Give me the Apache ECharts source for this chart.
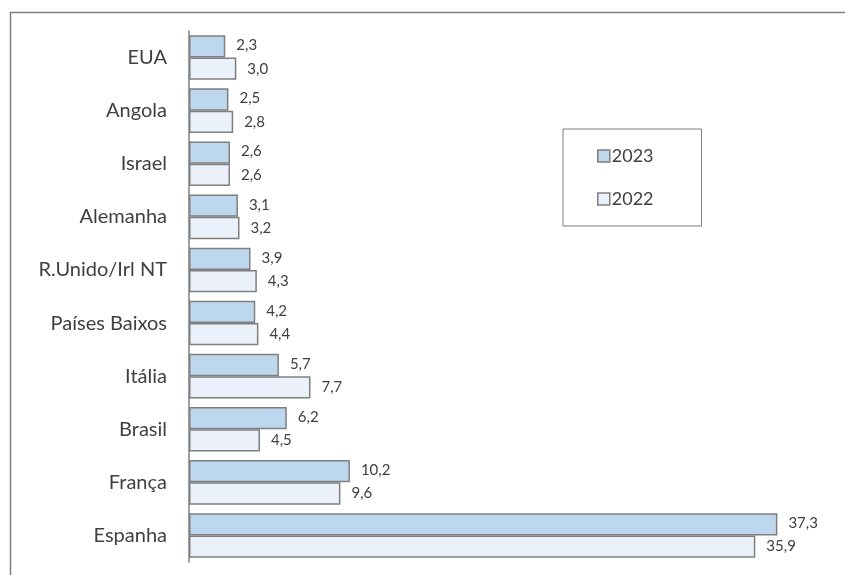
<!DOCTYPE html>
<html>
<head>
<meta charset="utf-8">
<script src="https://cdn.jsdelivr.net/npm/echarts@6/dist/echarts.min.js"></script>
<style>
  html, body { margin: 0; padding: 0; background: #fff; }
  #chart { width: 845px; height: 575px; }
</style>
</head>
<body>
<div id="chart"></div>
<script>
  // categorias de cima para baixo
  var categories = ['EUA', 'Angola', 'Israel', 'Alemanha', 'R.Unido/Irl NT', 'Países Baixos', 'Itália', 'Brasil', 'França', 'Espanha']
  var values2023 = [2.3, 2.5, 2.6, 3.1, 3.9, 4.2, 5.7, 6.2, 10.2, 37.3]
  var values2022 = [3.0, 2.8, 2.6, 3.2, 4.3, 4.4, 7.7, 4.5, 9.6, 35.9]
  var seriesNames = ['2023', '2022']

  var fontFam = 'Lato'
  var textColor = '#404040'
  var edge = '#7f7f7f'

  function fmt(p) {
    return p.value.toFixed(1).replace('.', ',')
  }

  var dom = echarts.init(document.getElementById('chart'), null, { renderer: 'canvas' })
  var option = {
    animation: false,
    backgroundColor: '#fff',
    graphic: [{
      type: 'rect',
      left: 8, top: 10,
      shape: { width: 900, height: 600 },
      style: { fill: 'none', stroke: edge, lineWidth: 1.5 },
      silent: true
    }],
    legend: {
      orient: 'vertical',
      left: 563,
      top: 129,
      data: seriesNames,
      itemWidth: 12,
      itemHeight: 12,
      itemGap: 25,
      padding: [18, 48, 18, 34],
      borderColor: edge,
      borderWidth: 1,
      icon: 'rect',
      itemStyle: { borderColor: edge, borderWidth: 1.5 },
      textStyle: { fontFamily: fontFam, fontSize: 18, color: textColor, padding: [0, 0, 0, -3] }
    },
    grid: { left: 189, right: 25, top: 31, bottom: 13, containLabel: false },
    xAxis: {
      type: 'value',
      min: 0,
      max: 40,
      show: false
    },
    yAxis: {
      type: 'category',
      inverse: true,
      data: categories,
      axisLine: { show: true, lineStyle: { color: edge, width: 1.5 } },
      axisTick: { show: false },
      axisLabel: { margin: 22, fontFamily: fontFam, fontSize: 20, color: textColor }
    },
    series: [
      {
        name: seriesNames[0],
        type: 'bar',
        data: values2023,
        barGap: '0%',
        barCategoryGap: '16%',
        itemStyle: { color: '#bdd7ee', borderColor: edge, borderWidth: 1.5 },
        label: { show: true, position: 'right', distance: 11, offset: [0, -1], formatter: fmt, fontFamily: fontFam, fontSize: 15, color: textColor }
      },
      {
        name: seriesNames[1],
        type: 'bar',
        data: values2022,
        itemStyle: { color: '#eaf1fa', borderColor: edge, borderWidth: 1.5 },
        label: { show: true, position: 'right', distance: 11, offset: [0, 0], formatter: fmt, fontFamily: fontFam, fontSize: 15, color: textColor }
      }
    ]
  }
  dom.setOption(option)
</script>
</body>
</html>
